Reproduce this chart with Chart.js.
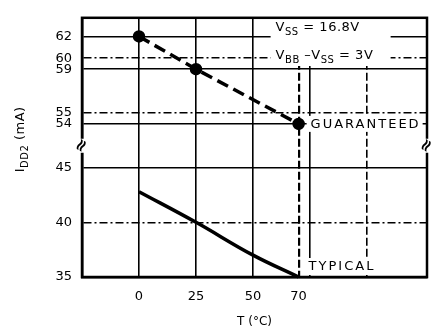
<!DOCTYPE html>
<html>
<head>
<meta charset="utf-8">
<script src="https://cdn.jsdelivr.net/npm/chart.js@4/dist/chart.umd.min.js"></script>
<style>
  html, body { margin: 0; padding: 0; background: #fff; }
  #wrap { width: 437px; height: 329px; }
</style>
</head>
<body>
<div id="wrap"><canvas id="idd2Chart" width="437" height="329"></canvas></div>
<script>
// Datos
const tempGuaranteed = [0, 25, 70];          // T (°C)
const iddGuaranteed = [62, 59, 54];          // IDD2 (mA)
const tempTypical = [0, 25, 50, 70];
const iddTypical = [42.8, 40, 37.0, 35];

const yTickValues = [35, 40, 45, 54, 55, 59, 60, 62];
const xTickLabels = [0, 25, 50, 70];
const xGridValues = [-25, 0, 25, 50, 70, 75, 100];
const yDashed = [40, 55, 60];
const xDashed = [70, 100];

// eje Y cortado: todo lo que esta por encima de 50 se baja 5 unidades
const BREAK_AT = 50;
const BREAK_SHIFT = 5;
function toPlot(v) { return v >= BREAK_AT ? v - BREAK_SHIFT : v; }
function fromPlot(v) { return v > BREAK_AT - BREAK_SHIFT ? v + BREAK_SHIFT : v; }

const FONT = 'DejaVu Sans';

// texto con subindices: partes [texto, esSubindice]
function drawRich(ctx, parts, x, y, size) {
    let cx = x;
    parts.forEach(([txt, sub]) => {
        ctx.font = (sub ? Math.round(size * 0.75) : size) + 'px "' + FONT + '"';
        ctx.fillText(txt, cx, sub ? y + size * 0.35 : y);
        cx += ctx.measureText(txt).width;
    });
    return cx;
}

const notesPlugin = {
    id: 'notes',
    beforeDatasetsDraw(chart) {
        const { ctx, scales: { x, y } } = chart;
        const x70 = x.getPixelForValue(70);
        ctx.save();
        ctx.fillStyle = '#fff';
        // huecos blancos detras de los textos
        ctx.fillRect(x70 - 28, 15, 120, 51);
        ctx.fillRect(x70 + 8, y.getPixelForValue(toPlot(54)) - 8, 116, 16);
        ctx.fillRect(x70 + 6, y.getPixelForValue(35) - 19, 72, 17);
        ctx.restore();
    },
    afterDraw(chart) {
        const { ctx, chartArea: a, scales: { x, y } } = chart;
        const x70 = x.getPixelForValue(70);
        ctx.save();
        // marco
        ctx.strokeStyle = '#000';
        ctx.lineWidth = 2.5;
        ctx.strokeRect(a.left, a.top, a.right - a.left, a.bottom - a.top);

        // simbolos de corte del eje
        const yBreak = (y.getPixelForValue(toPlot(54)) + y.getPixelForValue(45)) / 2;
        [a.left, a.right].forEach(px => {
            ctx.save();
            ctx.fillStyle = '#fff';
            ctx.fillRect(px - 4, yBreak - 7, 8, 14);
            ctx.translate(px, yBreak);
            ctx.rotate(-Math.PI / 3);
            ctx.fillStyle = '#000';
            ctx.font = 'bold 17px "' + FONT + '"';
            ctx.textAlign = 'center';
            ctx.textBaseline = 'middle';
            ctx.fillText('\u2248', 0, 0);
            ctx.restore();
        });

        ctx.fillStyle = '#000';
        ctx.textBaseline = 'middle';
        ctx.letterSpacing = '0.5px';
        drawRich(ctx, [['V', false], ['SS', true], [' = 16.8V', false]], x70 - 23, 28, 13);
        drawRich(ctx, [['V', false], ['BB', true], [' \u2013V', false], ['SS', true], [' = 3V', false]], x70 - 23, 56, 13);

        ctx.letterSpacing = '2px';
        ctx.font = '13px "' + FONT + '"';
        ctx.fillText('GUARANTEED', x70 + 12, y.getPixelForValue(toPlot(54)) + 1);
        ctx.fillText('TYPICAL', x70 + 10, y.getPixelForValue(35) - 10);

        // titulo del eje Y
        ctx.letterSpacing = '0.5px';
        ctx.translate(21, 138);
        ctx.rotate(-Math.PI / 2);
        ctx.font = '13px "' + FONT + '"';
        const w = ctx.measureText('I').width + 26 + ctx.measureText(' (mA)').width;
        ctx.textBaseline = 'middle';
        drawRich(ctx, [['I', false], ['DD2', true], [' (mA)', false]], -w / 2, 0, 13);
        ctx.restore();
    }
};

new Chart(document.getElementById('idd2Chart'), {
    type: 'scatter',
    data: {
        datasets: [
            {
                label: 'GUARANTEED',
                data: tempGuaranteed.map((t, i) => ({ x: t, y: toPlot(iddGuaranteed[i]) })),
                showLine: true,
                borderColor: '#000',
                backgroundColor: '#000',
                borderWidth: 3.5,
                borderDash: [12, 6],
                pointRadius: 4.5,
                pointHoverRadius: 4.5
            },
            {
                label: 'TYPICAL',
                data: tempTypical.map((t, i) => ({ x: t, y: toPlot(iddTypical[i]) })),
                showLine: true,
                borderColor: '#000',
                borderWidth: 3.5,
                tension: 0.4,
                pointRadius: 0,
                clip: false
            }
        ]
    },
    options: {
        responsive: false,
        animation: false,
        events: [],
        layout: { padding: { top: 4, right: 10, left: 0, bottom: 0 } },
        plugins: {
            legend: { display: false },
            tooltip: { enabled: false }
        },
        scales: {
            x: {
                type: 'linear',
                min: -25,
                max: 126.3,
                afterBuildTicks: scale => { scale.ticks = xGridValues.map(v => ({ value: v })); },
                afterFit: scale => { scale.height = 52; },
                ticks: {
                    autoSkip: false,
                    maxRotation: 0,
                    padding: 12,
                    color: '#000',
                    font: { family: FONT, size: 13 },
                    callback: v => xTickLabels.includes(v) ? String(v) : ''
                },
                grid: {
                    color: '#000',
                    lineWidth: c => (c.tick && c.tick.value === 70) ? 2.2 : 1.6,
                    drawTicks: false
                },
                border: {
                    color: '#000',
                    width: 2.5,
                    dash: c => (c.tick && xDashed.includes(c.tick.value)) ? [8, 3] : []
                },
                title: {
                    display: true,
                    text: 'T (\u00b0C)',
                    color: '#000',
                    font: { family: FONT, size: 12 },
                    padding: { top: 4, bottom: 0 }
                }
            },
            y: {
                type: 'linear',
                min: 35,
                max: 58.7,
                afterBuildTicks: scale => { scale.ticks = yTickValues.map(v => ({ value: toPlot(v) })); },
                afterFit: scale => { scale.width = 82; },
                ticks: {
                    autoSkip: false,
                    padding: 10,
                    color: '#000',
                    font: { family: FONT, size: 13 },
                    callback: v => String(fromPlot(v))
                },
                grid: { color: '#000', lineWidth: 1.6, drawTicks: false },
                border: {
                    color: '#000',
                    width: 2.5,
                    dash: c => (c.tick && yDashed.includes(fromPlot(c.tick.value))) ? [8, 3, 2, 3] : []
                }
            }
        }
    },
    plugins: [notesPlugin]
});
</script>
</body>
</html>
